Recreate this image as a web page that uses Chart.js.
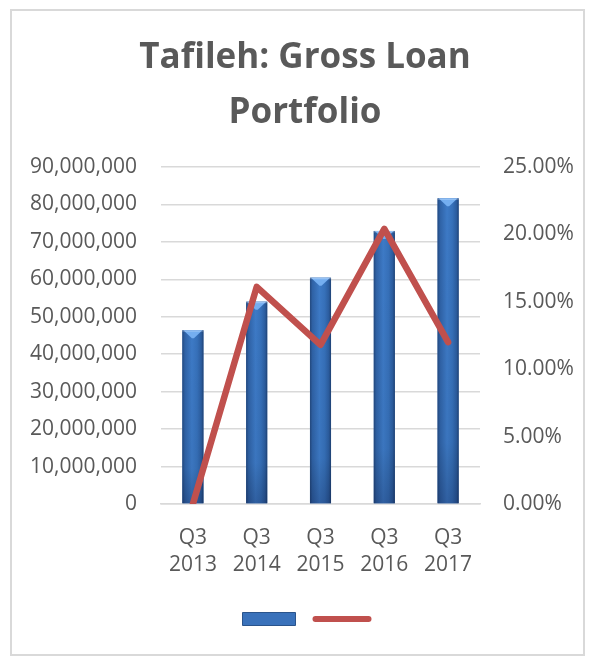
<!DOCTYPE html>
<html>
<head>
<meta charset="utf-8">
<script src="https://cdn.jsdelivr.net/npm/chart.js@4/dist/chart.umd.min.js"></script>
<style>
  html, body { margin: 0; padding: 0; background: #ffffff; }
  #frame {
    position: absolute; left: 10px; top: 9px; width: 571px; height: 643px;
    border: 2px solid #d9d9d9; box-sizing: content-box;
  }
  #wrap { position: absolute; left: 0; top: 0; width: 590px; height: 660px; }
</style>
</head>
<body>
<div id="frame"></div>
<div id="wrap"><canvas id="chart" width="590" height="660"></canvas></div>
<script>
// Gross loan portfolio (JOD) and year-on-year growth for Tafileh branch
const categories = [['Q3', '2013'], ['Q3', '2014'], ['Q3', '2015'], ['Q3', '2016'], ['Q3', '2017']];
const grossLoans = [46400000, 54000000, 60400000, 72900000, 81600000];
const growthPct = [0, 16.1, 11.8, 20.4, 12.0];
const chartTitle = ['Tafileh: Gross Loan', 'Portfolio'];

const textGrey = '#595959';
const gridGrey = '#d9d9d9';
const barBlue = '#3467ae';
const lineRed = '#c0504d';
const baseFont = "'Open Sans', 'DejaVu Sans', sans-serif";

// Shade each column like a rounded bevelled bar: dark edges, lighter middle, light cap
const bevelBars = {
  id: 'bevelBars',
  afterDatasetDraw(chart, args) {
    if (args.meta.type !== 'bar') return;
    const ctx = chart.ctx;
    ctx.save();
    args.meta.data.forEach(el => {
      const w = el.width, left = el.x - w / 2, right = el.x + w / 2;
      const top = el.y, bottom = el.base;
      const g = ctx.createLinearGradient(left, 0, right, 0);
      g.addColorStop(0, '#23497f');
      g.addColorStop(0.12, '#2f62a6');
      g.addColorStop(0.45, '#3d7ac6');
      g.addColorStop(0.7, '#3670b9');
      g.addColorStop(0.9, '#2b5c9e');
      g.addColorStop(1, '#1f4274');
      ctx.fillStyle = g;
      ctx.fillRect(left, top, w, bottom - top);
      // darker foot of the column
      const v = ctx.createLinearGradient(0, top, 0, bottom);
      v.addColorStop(0, 'rgba(0,0,0,0)');
      v.addColorStop(0.8, 'rgba(0,0,0,0.04)');
      v.addColorStop(1, 'rgba(0,0,30,0.22)');
      ctx.fillStyle = v;
      ctx.fillRect(left, top, w, bottom - top);
      // light bevel cap
      const capH = Math.min(8, bottom - top);
      ctx.beginPath();
      ctx.moveTo(left + 1, top);
      ctx.lineTo(right - 1, top);
      ctx.lineTo(el.x + 1, top + capH);
      ctx.lineTo(el.x - 1, top + capH);
      ctx.closePath();
      ctx.fillStyle = '#74aef0';
      ctx.fill();
      ctx.fillStyle = 'rgba(255,255,255,0.25)';
      ctx.fillRect(left, top, w, 1.5);
    });
    ctx.restore();
  }
};

// Nudge the key a few pixels to the right of the page centre
const legendNudge = {
  id: 'legendNudge',
  afterLayout(chart) {
    if (chart.legend) { chart.legend.left += 4; chart.legend.right += 4; }
  }
};

new Chart(document.getElementById('chart'), {
  data: {
    labels: categories,
    datasets: [
      {
        type: 'line',
        label: 'Growth',
        data: growthPct,
        yAxisID: 'yPct',
        borderColor: lineRed,
        borderWidth: 6.5,
        borderCapStyle: 'round',
        borderJoinStyle: 'round',
        pointRadius: 0,
        tension: 0,
        order: 0
      },
      {
        type: 'bar',
        label: 'Gross Loan Portfolio',
        data: grossLoans,
        yAxisID: 'yAmt',
        backgroundColor: barBlue,
        categoryPercentage: 1,
        barPercentage: 0.33,
        order: 1
      }
    ]
  },
  options: {
    responsive: false,
    animation: false,
    layout: { padding: { left: 20, right: 0, top: 0, bottom: 24 } },
    plugins: {
      title: {
        display: true,
        text: chartTitle,
        color: textGrey,
        font: { family: baseFont, size: 35, weight: 'bold', lineHeight: 1.57 },
        padding: { top: 31, bottom: 26 }
      },
      legend: {
        display: true,
        position: 'bottom',
        labels: {
          usePointStyle: true,
          pointStyleWidth: 53,
          boxHeight: 13,
          padding: 13,
          font: { family: baseFont, size: 14 },
          generateLabels() {
            return [
              { text: '', pointStyle: 'rect', fillStyle: '#3a72bb', strokeStyle: '#2a548c', lineWidth: 1, datasetIndex: 1 },
              { text: '', pointStyle: 'line', fillStyle: lineRed, strokeStyle: lineRed, lineWidth: 6, lineCap: 'round', datasetIndex: 0 }
            ];
          }
        }
      },
      tooltip: { enabled: false }
    },
    scales: {
      x: {
        type: 'category',
        offset: true,
        grid: { display: false, drawTicks: false },
        border: { display: true, color: gridGrey, width: 1.5 },
        ticks: {
          color: textGrey,
          font: { family: baseFont, size: 21, lineHeight: 1.31 },
          padding: 20,
          maxRotation: 0
        }
      },
      yAmt: {
        type: 'linear',
        position: 'left',
        min: 0,
        max: 90000000,
        grid: { color: gridGrey, lineWidth: 1.5, drawTicks: false },
        border: { display: false },
        ticks: {
          stepSize: 10000000,
          color: textGrey,
          padding: 24,
          font: { family: baseFont, size: 21 },
          callback: v => v.toLocaleString('en-US')
        },
        afterFit(scale) { scale.width = 141; }
      },
      yPct: {
        type: 'linear',
        position: 'right',
        min: 0,
        max: 25,
        grid: { display: false, drawTicks: false },
        border: { display: false },
        ticks: {
          stepSize: 5,
          color: textGrey,
          padding: 23,
          font: { family: baseFont, size: 21 },
          callback: v => v.toFixed(2) + '%'
        },
        afterFit(scale) { scale.width = 110; }
      }
    }
  },
  plugins: [bevelBars, legendNudge]
});
</script>
</body>
</html>
